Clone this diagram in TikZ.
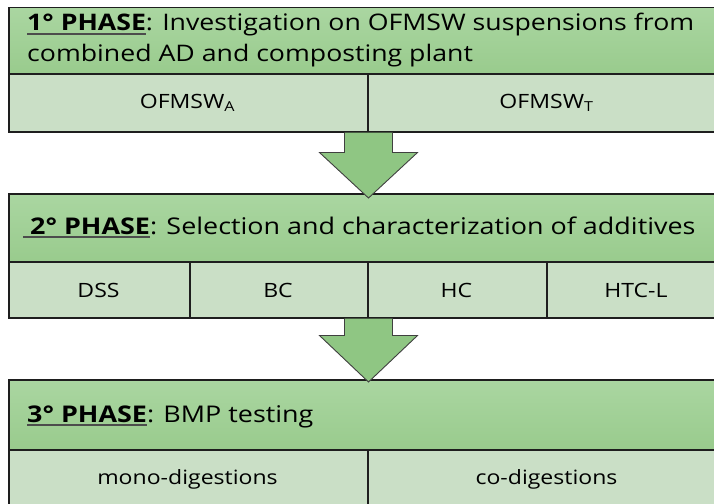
\documentclass[tikz,border=0pt]{standalone}
\usepackage{fontspec}
\setmainfont{Open Sans}[FakeStretch=1.17]
\usetikzlibrary{calc}

\definecolor{headtop}{HTML}{AAD6A1}
\definecolor{headbot}{HTML}{99CB8D}
\definecolor{cellfill}{HTML}{CADFC6}
\definecolor{arrowfill}{HTML}{8FC683}
\definecolor{edge}{HTML}{1E1E1E}

\tikzset{
  header/.style={rectangle, draw=edge, line width=1.5pt, top color=headtop,
    bottom color=headbot, anchor=north west, inner sep=0pt, minimum width=718pt},
  cell/.style={rectangle, draw=edge, line width=1.5pt, fill=cellfill,
    anchor=north west, inner sep=0pt},
  htext/.style={anchor=base west, inner sep=0pt, text=black,
    font=\fontsize{23}{27}\selectfont},
  ctext/.style={anchor=base, inner sep=0pt, text=black,
    font=\fontsize{19.7}{24}\selectfont},
  flowarrow/.style={draw=edge!85, line width=0.9pt, fill=arrowfill, line join=miter},
}
% bold phase tag with a thin rule under it
\newsavebox{\tagbox}
\newcommand{\phasetag}[1]{%
  \sbox{\tagbox}{\textbf{#1}}%
  \rlap{{\color{black!70}\rule[-3.5pt]{\wd\tagbox}{1.4pt}}}\usebox{\tagbox}}
% block arrow hanging below #1 with its tip at #2; #3 = length of the shaft
\newcommand{\phasearrow}[3]{%
  \draw[flowarrow] ($(#1)+(-24,0)$) -- ($(#1)+(-24,#3)$) -- ($(#1)+(-49,#3)$)
    -- (#2) -- ($(#1)+(49,#3)$) -- ($(#1)+(24,#3)$) -- ($(#1)+(24,0)$);}

\begin{document}
\begin{tikzpicture}[x=1pt, y=-1pt]
\useasboundingbox (0,0) rectangle (714,503);

% phase 1
\node[header, minimum height=66pt] (h1) at (8,7) {};
\node[cell, minimum width=359pt, minimum height=58pt] (c1a) at (8,73) {};
\node[cell, minimum width=359pt, minimum height=58pt] (c1b) at (367,73) {};
\node[htext, font=\fontsize{22.8}{27}\selectfont] (t1a) at (27,31)
  {\phasetag{1° PHASE}: Investigation on OFMSW suspensions from};
\node[htext, font=\fontsize{22.8}{27}\selectfont] (t1b) at (27,62)
  {combined AD and composting plant};
\node[ctext] (l1a) at (187.5,108) {OFMSW\textsubscript{A}};
\node[ctext] (l1b) at (546.5,108) {OFMSW\textsubscript{T}};

% phase 2
\node[header, minimum height=68pt] (h2) at (8,193) {};
\node[cell, minimum width=181pt, minimum height=56pt] (c2a) at (8,261) {};
\node[cell, minimum width=178pt, minimum height=56pt] (c2b) at (189,261) {};
\node[cell, minimum width=179pt, minimum height=56pt] (c2c) at (367,261) {};
\node[cell, minimum width=180pt, minimum height=56pt] (c2d) at (546,261) {};
\node[htext] (t2) at (23,234)
  {\phasetag{\ 2° PHASE}: Selection and characterization of additives};
\node[ctext] (l2a) at (98.5,297) {DSS};
\node[ctext] (l2b) at (278,297) {BC};
\node[ctext] (l2c) at (456.5,297) {HC};
\node[ctext] (l2d) at (636,297) {HTC-L};

% phase 3
\node[header, minimum height=70pt] (h3) at (8,379) {};
\node[cell, minimum width=359pt, minimum height=57pt] (c3a) at (8,449) {};
\node[cell, minimum width=359pt, minimum height=57pt] (c3b) at (367,449) {};
\node[htext] (t3) at (27,422)
  {\phasetag{3° PHASE}: BMP testing};
\node[ctext] (l3a) at (187.5,484) {mono-digestions};
\node[ctext] (l3b) at (546.5,484) {co-digestions};

% arrows between the phases
\coordinate (a1top) at (c1a.south east);
\coordinate (a1tip) at ($(h2.north -| a1top)+(0,5)$);
\phasearrow{a1top}{a1tip}{20}
\coordinate (a2top) at (c2b.south east);
\coordinate (a2tip) at ($(h3.north -| a2top)+(0,3)$);
\phasearrow{a2top}{a2tip}{17}
\end{tikzpicture}
\end{document}
